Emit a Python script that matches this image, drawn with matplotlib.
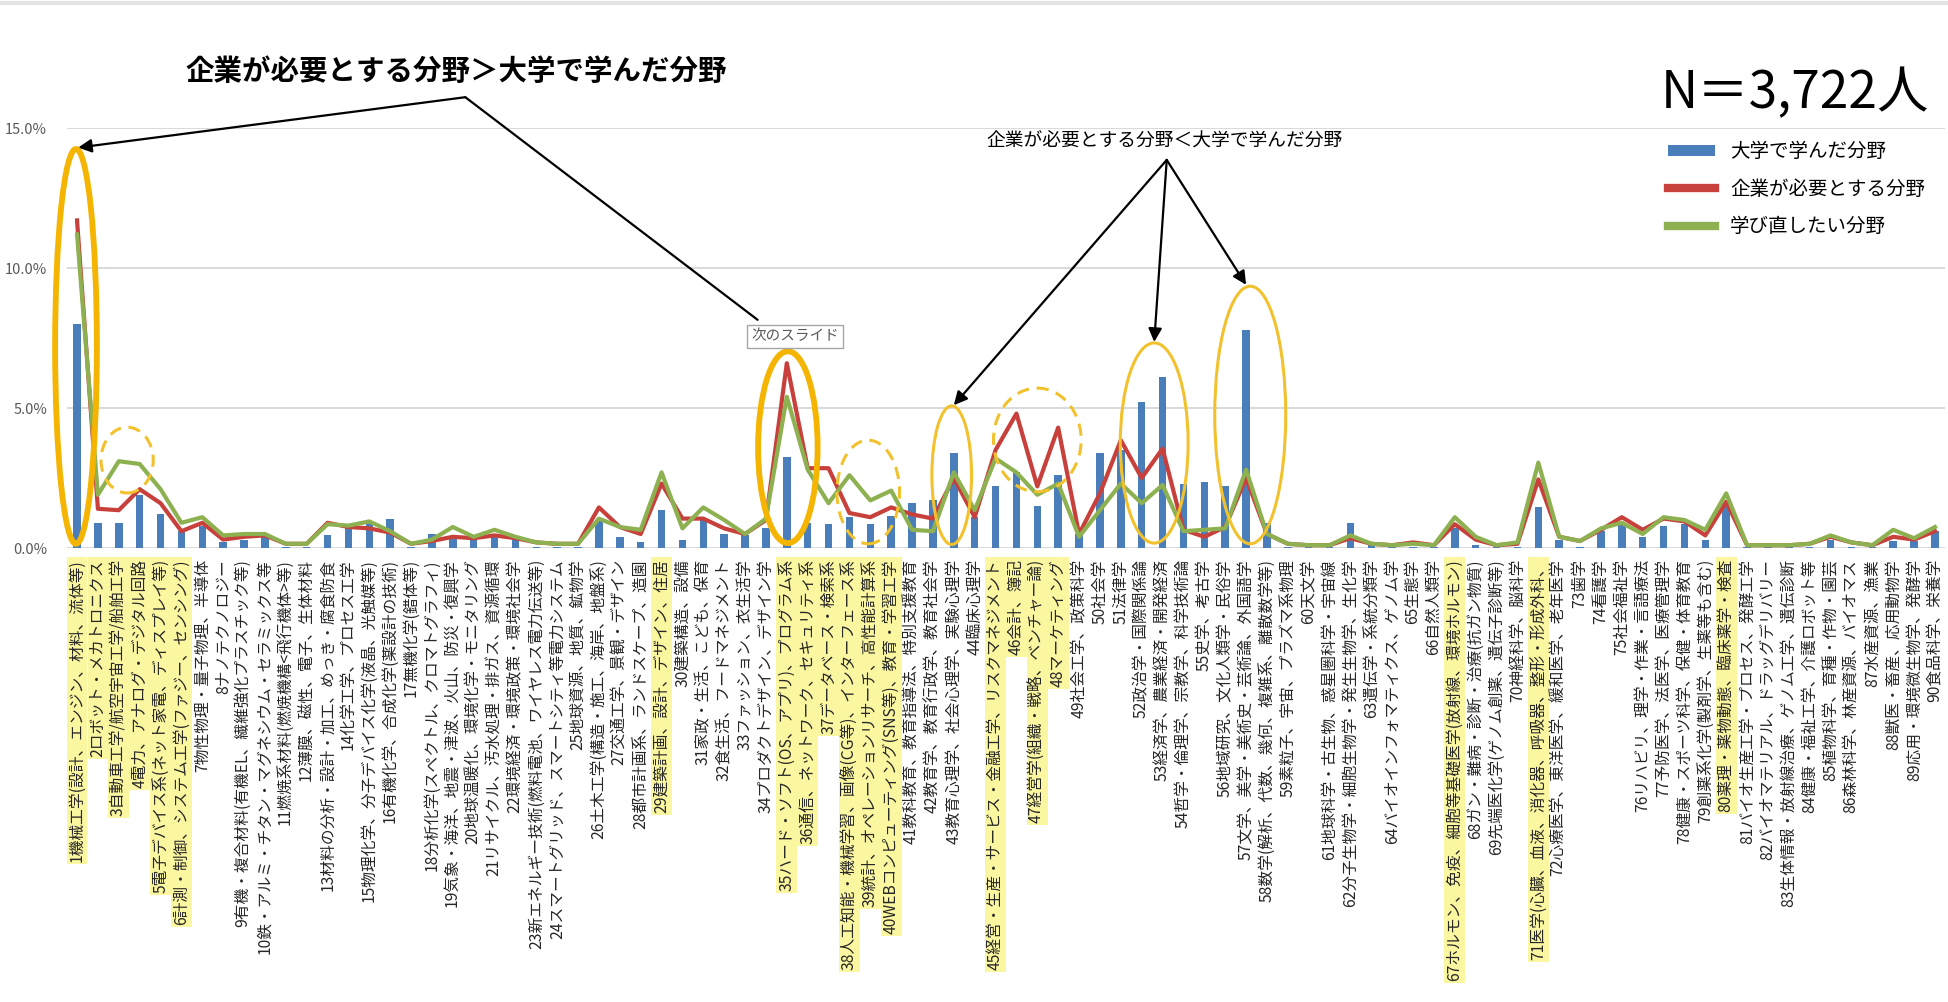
import matplotlib
matplotlib.use("Agg")
import matplotlib.pyplot as plt
import numpy as np
from matplotlib.lines import Line2D
from matplotlib.patches import Ellipse

plt.rcParams["font.family"] = ["Noto Sans CJK JP", "DejaVu Sans"]

# 90 academic fields (x-axis categories)
FIELDS = [
    "1機械工学(設計、エンジン、材料、流体等)",
    "2ロボット・メカトロニクス",
    "3自動車工学/航空宇宙工学/船舶工学",
    "4電力、アナログ・デジタル回路",
    "5電子デバイス系(ネット家電、ディスプレイ等)",
    "6計測・制御、システム工学(ファジー、センシング)",
    "7物性物理・量子物理、半導体",
    "8ナノテクノロジー",
    "9有機・複合材料(有機EL、繊維強化プラスチック等)",
    "10鉄・アルミ・チタン・マグネシウム・セラミックス等",
    "11燃焼系材料(燃焼機構<飛行機体>等)",
    "12薄膜、磁性、電子、生体材料",
    "13材料の分析・設計・加工、めっき・腐食防食",
    "14化学工学、プロセス工学",
    "15物理化学、分子デバイス化学(液晶、光触媒等)",
    "16有機化学、合成化学(薬設計の技術)",
    "17無機化学(錯体等)",
    "18分析化学(スペクトル、クロマトグラフィ)",
    "19気象・海洋、地震・津波、火山、防災・復興学",
    "20地球温暖化、環境化学・モニタリング",
    "21リサイクル、汚水処理・排ガス、資源循環",
    "22環境経済・環境政策・環境社会学",
    "23新エネルギー技術(燃料電池、ワイヤレス電力伝送等)",
    "24スマートグリッド、スマートシティ等電力システム",
    "25地球資源、地質、鉱物学",
    "26土木工学(構造・施工、海岸、地盤系)",
    "27交通工学、景観・デザイン",
    "28都市計画系、ランドスケープ、造園",
    "29建築計画、設計、デザイン、住居",
    "30建築構造、設備",
    "31家政・生活、こども、保育",
    "32食生活、フードマネジメント",
    "33ファッション、衣生活学",
    "34プロダクトデザイン、デザイン学",
    "35ハード・ソフト(OS、アプリ)、プログラム系",
    "36通信、ネットワーク、セキュリティ系",
    "37データベース・検索系",
    "38人工知能・機械学習、画像(CG等)、インターフェース系",
    "39統計、オペレーションリサーチ、高性能計算系",
    "40WEBコンピューティング(SNS等)、教育・学習工学",
    "41教科教育、教育指導法、特別支援教育",
    "42教育学、教育行政学、教育社会学",
    "43教育心理学、社会心理学、実験心理学",
    "44臨床心理学",
    "45経営・生産・サービス・金融工学、リスクマネジメント",
    "46会計、簿記",
    "47経営学(組織・戦略、ベンチャー論)",
    "48マーケティング",
    "49社会工学、政策科学",
    "50社会学",
    "51法律学",
    "52政治学・国際関係論",
    "53経済学、農業経済・開発経済",
    "54哲学・倫理学、宗教学、科学技術論",
    "55史学、考古学",
    "56地域研究、文化人類学・民俗学",
    "57文学、美学・美術史・芸術論、外国語学",
    "58数学(解析、代数、幾何、複雑系、離散数学等)",
    "59素粒子、宇宙、プラズマ系物理",
    "60天文学",
    "61地球科学・古生物、惑星圏科学・宇宙線",
    "62分子生物学・細胞生物学・発生生物学、生化学",
    "63遺伝学・系統分類学",
    "64バイオインフォマティクス、ゲノム学",
    "65生態学",
    "66自然人類学",
    "67ホルモン、免疫、細胞等基礎医学(放射線、環境ホルモン)",
    "68ガン・難病・診断・治療(抗ガン物質)",
    "69先端医化学(ゲノム創薬、遺伝子診断等)",
    "70神経科学、脳科学",
    "71医学(心臓、血液、消化器、呼吸器、整形・形成外科、",
    "72心療医学、東洋医学、緩和医学、老年医学",
    "73歯学",
    "74看護学",
    "75社会福祉学",
    "76リハビリ、理学・作業・言語療法",
    "77予防医学、法医学、医療管理学",
    "78健康・スポーツ科学、保健・体育教育",
    "79創薬系化学(製剤学、生薬等も含む)",
    "80薬理・薬物動態、臨床薬学・検査",
    "81バイオ生産工学・プロセス、発酵工学",
    "82バイオマテリアル、ドラッグデリバリー",
    "83生体情報・放射線治療、ゲノム工学、遺伝診断",
    "84健康・福祉工学、介護ロボット等",
    "85植物科学、育種・作物・園芸",
    "86森林科学、林産資源、バイオマス",
    "87水産資源、漁業",
    "88獣医・畜産、応用動物学",
    "89応用・環境微生物学、発酵学",
    "90食品科学、栄養学",
]

# field numbers shaded yellow under the axis
HIGHLIGHT = [1, 2, 3, 4, 5, 6, 29, 35, 36, 37, 38, 39, 40, 45, 46, 47, 48, 67, 71, 80]

SERIES_NAMES = ["大学で学んだ分野", "企業が必要とする分野", "学び直したい分野"]

# shares in percent
STUDIED = [
    8.0, 0.9, 0.9, 1.9, 1.2, 0.6, 0.8, 0.2, 0.3, 0.45,
    0.05, 0.05, 0.45, 0.7, 0.9, 1.05, 0.05, 0.5, 0.4, 0.35,
    0.4, 0.35, 0.05, 0.05, 0.05, 0.95, 0.4, 0.2, 1.35, 0.3,
    1.0, 0.5, 0.45, 0.7, 3.25, 0.9, 0.85, 1.1, 0.85, 1.15,
    1.6, 1.7, 3.4, 1.1, 2.2, 2.7, 1.5, 2.6, 0.5, 3.4,
    3.5, 5.2, 6.1, 2.3, 2.35, 2.2, 7.8, 0.9, 0.05, 0.05,
    0.05, 0.9, 0.2, 0.05, 0.05, 0.05, 0.7, 0.1, 0.05, 0.05,
    1.45, 0.3, 0.05, 0.6, 0.85, 0.4, 0.8, 0.85, 0.3, 1.6,
    0.05, 0.05, 0.05, 0.05, 0.3, 0.05, 0.05, 0.25, 0.25, 0.6,
]
NEEDED = [
    11.7, 1.4, 1.35, 2.1, 1.6, 0.6, 0.9, 0.3, 0.4, 0.45,
    0.15, 0.15, 0.9, 0.75, 0.7, 0.55, 0.15, 0.25, 0.4, 0.35,
    0.45, 0.35, 0.2, 0.15, 0.15, 1.45, 0.75, 0.5, 2.3, 1.05,
    1.05, 0.7, 0.5, 1.0, 6.6, 2.85, 2.85, 1.25, 1.1, 1.45,
    1.2, 1.05, 2.5, 1.1, 3.5, 4.8, 2.2, 4.3, 0.5, 1.95,
    3.85, 2.5, 3.55, 0.65, 0.4, 0.75, 2.5, 0.5, 0.15, 0.1,
    0.1, 0.35, 0.15, 0.1, 0.2, 0.1, 0.85, 0.3, 0.1, 0.15,
    2.45, 0.4, 0.25, 0.65, 1.1, 0.65, 1.05, 0.95, 0.45, 1.65,
    0.1, 0.1, 0.1, 0.15, 0.4, 0.2, 0.1, 0.4, 0.3, 0.6,
]
RELEARN = [
    11.2, 1.9, 3.1, 3.0, 2.1, 0.9, 1.1, 0.45, 0.5, 0.5,
    0.15, 0.15, 0.85, 0.8, 0.95, 0.6, 0.15, 0.3, 0.75, 0.4,
    0.65, 0.4, 0.2, 0.15, 0.15, 1.05, 0.75, 0.65, 2.7, 0.7,
    1.45, 1.0, 0.5, 1.05, 5.4, 2.8, 1.6, 2.6, 1.7, 2.05,
    0.65, 0.6, 2.7, 1.35, 3.2, 2.7, 1.9, 2.3, 0.4, 1.35,
    2.3, 1.6, 2.25, 0.6, 0.65, 0.7, 2.8, 0.5, 0.15, 0.1,
    0.1, 0.45, 0.15, 0.1, 0.15, 0.1, 1.1, 0.4, 0.1, 0.2,
    3.05, 0.4, 0.25, 0.7, 0.9, 0.5, 1.1, 1.0, 0.65, 1.95,
    0.1, 0.1, 0.1, 0.15, 0.45, 0.2, 0.1, 0.65, 0.35, 0.75,
]

TITLE_MORE = "企業が必要とする分野＞大学で学んだ分野"
TITLE_LESS = "企業が必要とする分野＜大学で学んだ分野"
NEXT_SLIDE = "次のスライド"
N_LABEL = "N＝3,722人"

BLUE = "#4A7EBB"
RED = "#C8403B"
GREEN = "#8DB150"
GOLD = "#F4B400"
PALE_GOLD = "#F2C12E"

W, H = 1948, 1002
fig = plt.figure(figsize=(W / 100, H / 100), dpi=100)
ax = fig.add_axes([66.6 / W, 1 - 548 / H, (1945.4 - 66.6) / W, 420 / H])

x = np.arange(1, len(FIELDS) + 1)
bars = ax.bar(x, STUDIED, width=0.36, color=BLUE, label=SERIES_NAMES[0], zorder=2)
(line_need,) = ax.plot(x, NEEDED, color=RED, lw=3, label=SERIES_NAMES[1], zorder=3)
(line_relearn,) = ax.plot(x, RELEARN, color=GREEN, lw=3, label=SERIES_NAMES[2], zorder=4)

ax.set_xlim(0.5, len(FIELDS) + 0.5)
ax.set_ylim(0, 15)
ax.set_yticks([0, 5, 10, 15])
ax.set_yticklabels([f"{v:.1f}%" for v in [0, 5, 10, 15]], fontsize=10.5, color="#595959")
ax.tick_params(axis="y", length=0, pad=14)
ax.grid(axis="y", color="#D9D9D9", lw=1.4, zorder=0)
ax.set_axisbelow(True)
for side in ["top", "right", "left", "bottom"]:
    ax.spines[side].set_visible(False)

ax.set_xticks(x)
ax.set_xticklabels(FIELDS, rotation=90, ha="center", va="top", fontsize=11.3, color="#262626")
ax.tick_params(axis="x", length=0, pad=8)
for num, lbl in zip(x, ax.get_xticklabels()):
    if num in HIGHLIGHT:
        lbl.set_bbox(dict(boxstyle="square,pad=0.12", fc="#FBF6A0", ec="none"))

# highlight rings: (centre x, centre y, width, height, style)
rings = [
    (0.95, 7.2, 2.0, 14.1, "bold"),
    (3.4, 3.14, 2.5, 2.35, "dashed"),
    (35.05, 3.6, 2.85, 6.85, "bold"),
    (38.9, 2.0, 3.0, 3.7, "dashed"),
    (42.9, 2.6, 1.9, 4.95, "thin"),
    (47.0, 3.86, 4.2, 3.7, "dashed"),
    (52.6, 3.75, 3.25, 7.15, "thin"),
    (57.2, 4.75, 3.4, 9.2, "thin"),
]
for cx, cy, w, h, style in rings:
    if style == "bold":
        kw = dict(ec=GOLD, lw=4.2)
    elif style == "thin":
        kw = dict(ec=PALE_GOLD, lw=2.2)
    else:
        kw = dict(ec=PALE_GOLD, lw=2.2, ls=(0, (4, 2.5)))
    ax.add_patch(Ellipse((cx, cy), w, h, fc="none", clip_on=False, zorder=5, **kw))

arrow = dict(arrowstyle="-|>", color="black", lw=1.6, mutation_scale=20, shrinkA=0, shrinkB=0)
plain = dict(arrowstyle="-", color="black", lw=1.6, shrinkA=0, shrinkB=0)

ax.text(19.15, 17.0, TITLE_MORE, ha="center", va="center", fontsize=20.5, weight="bold")
ax.annotate("", xy=(1.05, 14.3), xytext=(19.6, 16.1), arrowprops=arrow, annotation_clip=False)
ax.annotate("", xy=(33.6, 8.15), xytext=(19.6, 16.1), arrowprops=plain, annotation_clip=False)
ax.text(35.4, 7.55, NEXT_SLIDE, ha="center", va="center", fontsize=10.5, color="#595959",
        zorder=6, bbox=dict(boxstyle="square,pad=0.3", fc="white", ec="#A6A6A6", lw=1))

ax.text(53.1, 14.57, TITLE_LESS, ha="center", va="center", fontsize=13.5)
for tip in [(43.0, 5.1), (52.6, 7.36), (57.0, 9.4)]:
    ax.annotate("", xy=tip, xytext=(53.2, 13.86), arrowprops=arrow, annotation_clip=False)

fig.text(1795 / W, 1 - 93 / H, N_LABEL, ha="center", va="center", fontsize=37)

leg = fig.legend([bars, line_need, line_relearn], SERIES_NAMES,
                 loc="upper left", bbox_to_anchor=(1668 / W, 1 - 141 / H), frameon=False,
                 fontsize=14, handlelength=2.4, handleheight=0.5, handletextpad=0.8,
                 labelspacing=0.85, borderpad=0, borderaxespad=0)
for handle in leg.legend_handles:
    if isinstance(handle, Line2D):
        handle.set_linewidth(6)

fig.add_artist(Line2D([0, 1], [1 - 3 / H, 1 - 3 / H], color="#E3E3E3", lw=3,
                      transform=fig.transFigure))

fig.savefig("out.png", dpi=100, facecolor="white")
